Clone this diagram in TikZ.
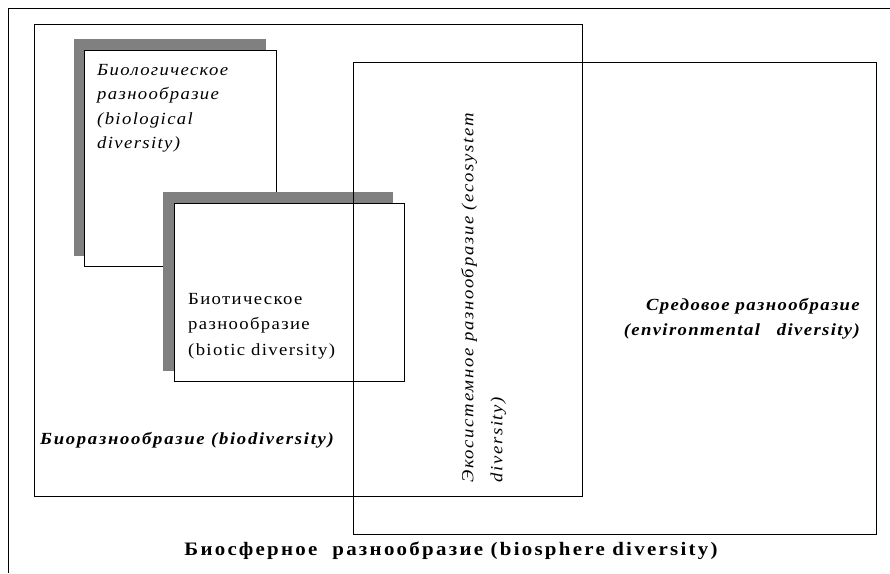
\documentclass[tikz,border=0pt]{standalone}
\usepackage{fontspec}
\setmainfont{Liberation Serif}[FakeStretch=1.1, LetterSpace=8]
\usetikzlibrary{positioning}

\begin{document}
\begin{tikzpicture}[
    x=1pt, y=-1pt,
    box/.style    = {draw, line width=0.7pt},
    shadow/.style = {fill=black!50},
    txt/.style    = {inner sep=0pt, font=\fontsize{17}{25.5}\selectfont},
  ]
  \useasboundingbox (0,0) rectangle (890,573);

  % Rahmen
  \draw[line width=0.9pt] (890,8) -- (8,8) -- (8,573);

  % Biodiversity
  \draw[box] (34,24) rectangle (582,496);

  % Biological diversity
  \fill[shadow] (74,39) rectangle (266,256);
  \draw[box, fill=white] (84,50) rectangle (276,266);

  % Biotic diversity
  \fill[shadow] (163,192) rectangle (393,371);
  \draw[box, fill=white] (174,203) rectangle (404,381);

  % Ecosystem / environmental diversity
  \draw[box] (353,62) rectangle (876,534);

  % Beschriftungen
  \node[txt, anchor=north west, align=left, font=\fontsize{17}{24.5}\selectfont\itshape] (biol) at (97,64)
    {Биологическое\\разнообразие\\(biological\\diversity)};
  \node[txt, anchor=north west, align=left] (biot) at (188,293)
    {Биотическое\\разнообразие\\(biotic diversity)};
  \node[txt, anchor=west, font=\fontsize{17}{24}\selectfont\bfseries\itshape\addfontfeature{LetterSpace=10}] (biodiv) at (40,440)
    {Биоразнообразие (biodiversity)};
  \node[txt, rotate=90, anchor=north west, align=left, font=\fontsize{17}{29}\selectfont\itshape\addfontfeature{LetterSpace=10}] (eco) at (461,483)
    {Экосистемное разнообразие (ecosystem\\diversity)};
  \node[txt, anchor=north east, align=right, font=\fontsize{17}{25}\selectfont\bfseries\itshape] (env) at (860,298)
    {Средовое разнообразие\\(environmental\quad diversity)};
  \node[txt, font=\fontsize{19}{24}\selectfont\bfseries\addfontfeature{LetterSpace=12}] (biosph) at (451,551)
    {Биосферное\ \ разнообразие (biosphere diversity)};
\end{tikzpicture}
\end{document}
